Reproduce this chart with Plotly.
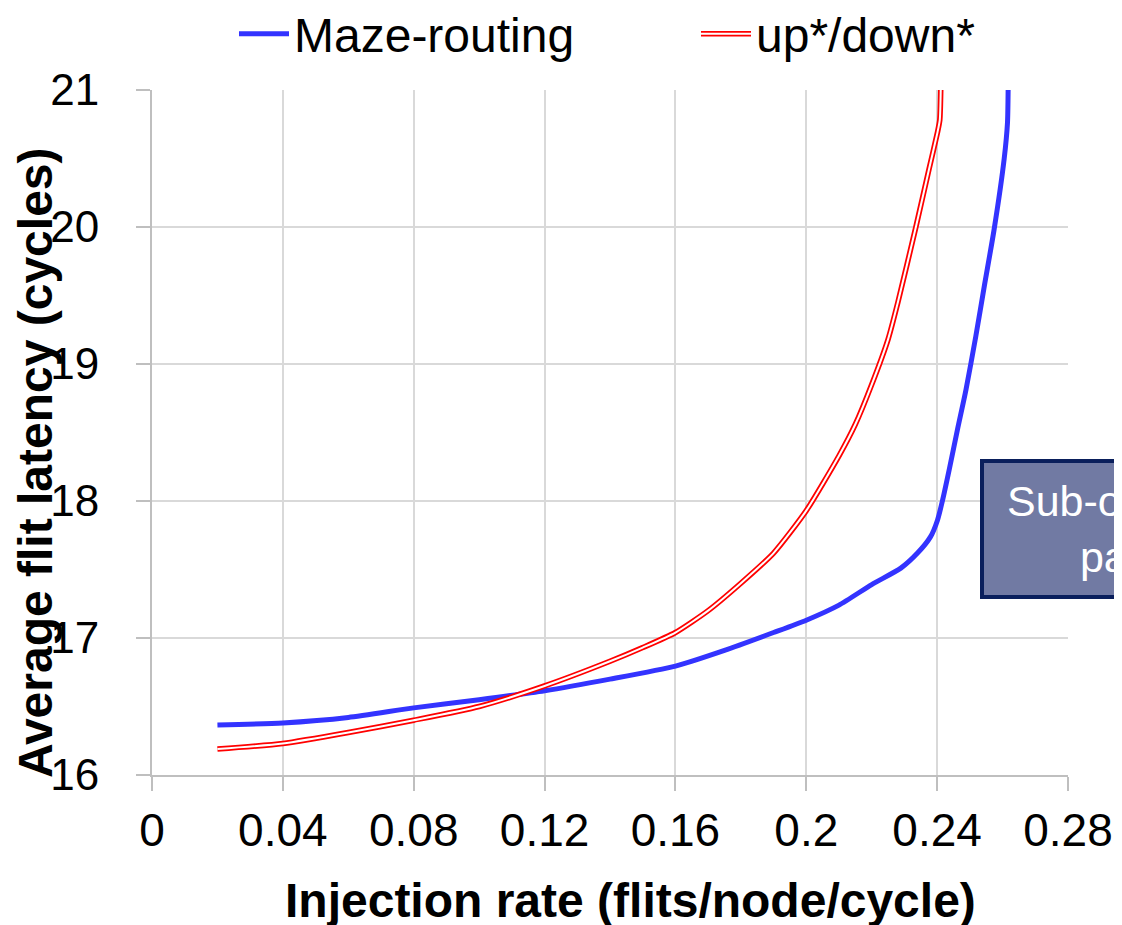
import plotly.graph_objects as go

# ---- data ----
maze_x = [0.02, 0.04, 0.06, 0.08, 0.10, 0.12, 0.14, 0.16, 0.175, 0.19, 0.20, 0.21, 0.22,
          0.2289, 0.234, 0.238, 0.2401, 0.2416, 0.2437, 0.2462, 0.2488, 0.2518, 0.2545,
          0.2574, 0.2605, 0.2615, 0.2617]
maze_y = [16.365, 16.38, 16.42, 16.49, 16.55, 16.615, 16.70, 16.795, 16.91, 17.04, 17.13, 17.24, 17.39,
          17.51, 17.62, 17.74, 17.86, 18.00, 18.23, 18.52, 18.81, 19.20, 19.58,
          19.98, 20.50, 20.76, 21.00]

updown_x = [0.02, 0.04, 0.06, 0.08, 0.10, 0.12, 0.14, 0.15, 0.16, 0.17, 0.18, 0.19, 0.20,
            0.21, 0.215, 0.22, 0.225, 0.228, 0.2335, 0.2375, 0.2401, 0.2408, 0.2411]
updown_y = [16.19, 16.23, 16.31, 16.40, 16.50, 16.65, 16.83, 16.93, 17.04, 17.20, 17.40, 17.62, 17.93,
            18.33, 18.56, 18.85, 19.18, 19.45, 20.00, 20.42, 20.69, 20.78, 21.00]

x_ticks = [0, 0.04, 0.08, 0.12, 0.16, 0.2, 0.24, 0.28]
x_tick_labels = ["0", "0.04", "0.08", "0.12", "0.16", "0.2", "0.24", "0.28"]
y_ticks = [16, 17, 18, 19, 20, 21]

series_names = ["Maze-routing", "up*/down*"]
x_title = "Injection rate (flits/node/cycle)"
y_title = "Average flit latency (cycles)"
box_text = "Sub-optimal<br>path"

FONT = "Arial, 'Liberation Sans', sans-serif"
# the page body has an 8px margin, so the figure is sized/placed accordingly
W, H = 1114, 917
L, R, T, B = 144, 54, 82, 150
plot_w = W - L - R
plot_h = H - T - B


def px(fx):
    return (fx - L) / plot_w


def py(fy):
    return (H - B - fy) / plot_h


SMOOTH = 0.6
fig = go.Figure()
fig.add_trace(go.Scatter(x=maze_x, y=maze_y, mode="lines", name=series_names[0],
                         line=dict(color="#3333FF", width=5, shape="spline", smoothing=SMOOTH),
                         legend="legend"))
fig.add_trace(go.Scatter(x=updown_x, y=updown_y, mode="lines", name=series_names[1],
                         line=dict(color="#FF0000", width=5.5, shape="spline", smoothing=SMOOTH),
                         legend="legend2"))
# white core of the double line (its legend sample sits exactly on top of the red one)
fig.add_trace(go.Scatter(x=updown_x, y=updown_y, mode="lines", name=" ",
                         hoverinfo="skip", legend="legend3",
                         line=dict(color="#FFFFFF", width=2, shape="spline", smoothing=SMOOTH)))

axis_common = dict(showline=True, linecolor="#BFBFBF", linewidth=2,
                   showgrid=True, gridcolor="#D9D9D9", gridwidth=2,
                   ticks="outside", ticklen=14, tickwidth=2, tickcolor="#BFBFBF",
                   zeroline=False)

fig.update_xaxes(range=[0, 0.28], tickvals=x_ticks, ticktext=x_tick_labels,
                 ticklabelstandoff=0, tickfont=dict(family=FONT, size=46, color="#000"),
                 **axis_common)
fig.update_yaxes(range=[16, 21], tickvals=y_ticks, ticklabelstandoff=28,
                 tickfont=dict(family=FONT, size=44, color="#000"), **axis_common)

fig.add_annotation(text=f"<b>{x_title}</b>", xref="paper", yref="paper",
                   x=px(622), y=py(892), xanchor="center", yanchor="middle", showarrow=False,
                   font=dict(family=FONT, size=48, color="#000"))
fig.add_annotation(text=f"<b>{y_title}</b>", xref="paper", yref="paper",
                   x=px(27), y=py(455), textangle=-90,
                   xanchor="center", yanchor="middle", showarrow=False,
                   font=dict(family=FONT, size=48, color="#000"))

# callout box (clipped by the right page edge, as in the reference)
fig.add_shape(type="rect", xref="paper", yref="paper",
              x0=px(974), x1=px(1252), y0=py(589), y1=py(453),
              fillcolor="#717AA3", line=dict(color="#0A1F5C", width=4), layer="above")
fig.add_annotation(text=box_text, xref="paper", yref="paper",
                   x=px(1113), y=py(521), xanchor="center", yanchor="middle",
                   showarrow=False, align="center",
                   font=dict(family=FONT, size=43, color="#FFFFFF"))

leg_common = dict(orientation="h", xref="paper", yref="paper",
                  xanchor="left", yanchor="top",
                  font=dict(family=FONT, size=48, color="#000"),
                  itemwidth=50, bgcolor="rgba(0,0,0,0)")

fig.update_layout(
    width=W, height=H,
    margin=dict(l=L, r=R, t=T, b=B, autoexpand=False),
    paper_bgcolor="white", plot_bgcolor="white",
    showlegend=True,
    legend=dict(x=px(226), y=py(-12), **leg_common),
    legend2=dict(x=px(688), y=py(-12), **leg_common),
    legend3=dict(x=px(688), y=py(-12), **leg_common),
)

fig.write_html("out.html")
